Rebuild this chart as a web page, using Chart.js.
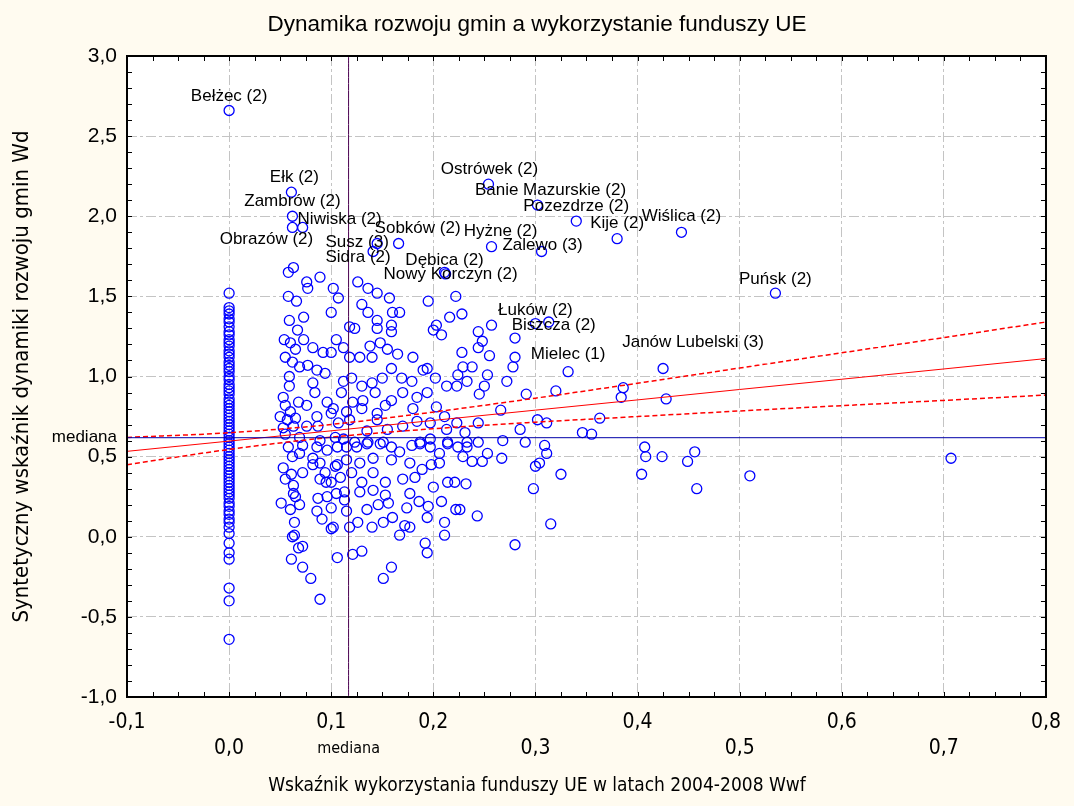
<!DOCTYPE html>
<html>
<head>
<meta charset="utf-8">
<script src="https://cdn.jsdelivr.net/npm/chart.js@4.4.1/dist/chart.umd.min.js"></script>
<style>
  html, body { margin: 0; padding: 0; background: #FFFBF0; }
  #wrap { width: 1074px; height: 806px; }
</style>
</head>
<body>
<div id="wrap"><canvas id="chart" width="1074" height="806"></canvas></div>
<script>
// --- dane ---
const chartTitle = 'Dynamika rozwoju gmin a wykorzystanie funduszy UE';
const xTitle = 'Wskaźnik wykorzystania funduszy UE w latach 2004-2008 Wwf';
const yTitle = 'Syntetyczny wskaźnik dynamiki rozwoju gmin Wd';

const xTicksRow1 = [-0.1, 0.1, 0.2, 0.4, 0.6, 0.8];
const xTicksRow2 = [0.0, 0.3, 0.5, 0.7];
const yTicks = [-1, -0.5, 0, 0.5, 1, 1.5, 2, 2.5, 3];

const medianWwf = 0.117;
const medianWd = 0.618;

// gminy z Wwf = 0
const zeroWwfWd = [1.52, 1.43, 1.41, 1.39, 1.36, 1.34, 1.31, 1.28, 1.26, 1.23, 1.21, 1.19, 1.16, 1.14, 1.12,
  1.09, 1.07, 1.05, 1.03, 1.00, 0.98, 0.95, 0.93, 0.91, 0.89, 0.86, 0.84, 0.82, 0.80, 0.78, 0.76, 0.74,
  0.72, 0.70, 0.68, 0.66, 0.64, 0.62, 0.60, 0.58, 0.56, 0.54, 0.52, 0.50, 0.48, 0.46, 0.44, 0.42, 0.40,
  0.38, 0.36, 0.34, 0.32, 0.30, 0.28, 0.26, 0.24, 0.21, 0.19, 0.16, 0.14, 0.11, 0.09, 0.06, 0.02,
  -0.04, -0.10, -0.14, -0.32, -0.40, -0.64];

// gminy opisane
const labelNames = ['Bełżec (2)', 'Ełk (2)', 'Zambrów (2)', 'Niwiska (2)', 'Obrazów (2)', 'Susz (3)', 'Sidra (2)',
  'Sobków (2)', 'Dębica (2)', 'Nowy Korczyn (2)', 'Ostrówek (2)', 'Banie Mazurskie (2)', 'Pozezdrze (2)',
  'Kije (2)', 'Wiślica (2)', 'Hyżne (2)', 'Zalewo (3)', 'Puńsk (2)', 'Łuków (2)', 'Biszcza (2)', 'Mielec (1)',
  'Janów Lubelski (3)'];
const labelWwf = [0, 0.061, 0.062, 0.072, 0.062, 0.145, 0.141, 0.166, 0.211, 0.212, 0.254, 0.302, 0.340,
  0.380, 0.443, 0.257, 0.306, 0.535, 0.300, 0.313, 0.332, 0.425];
const labelWd = [2.66, 2.15, 2.00, 1.93, 1.93, 1.83, 1.78, 1.83, 1.65, 1.64, 2.20, 2.07, 1.97,
  1.86, 1.90, 1.81, 1.78, 1.52, 1.33, 1.34, 1.03, 1.05];
// przesunięcie podpisów w pikselach
const labelDx = [0, 3, 0, 37, -26, -20, -15, 19, 0, 5, 1, 13, 0, 0, 0, 9, 1, 0, 0, 5, 0, 30];
const labelDy = [-14, -15, -15, -8, 12, -1, 6, -15, -12, 0, -15, -15, -15, -15, -16, -15, -6, -14, -13, 3, -17, -26];

// pozostałe gminy [Wwf, Wd]
const otherWwfWd = [
  // prawa strona
  [0.386, 0.93], [0.384, 0.87], [0.428, 0.86], [0.363, 0.74], [0.407, 0.56], [0.408, 0.50], [0.424, 0.50],
  [0.404, 0.39], [0.456, 0.53], [0.449, 0.47], [0.458, 0.30], [0.510, 0.38], [0.707, 0.49],
  // 0.22 - 0.36
  [0.228, 1.39], [0.257, 1.32], [0.244, 1.28], [0.248, 1.22], [0.244, 1.18], [0.255, 1.13], [0.228, 1.15],
  [0.280, 1.24], [0.280, 1.12], [0.278, 1.06], [0.238, 1.06], [0.253, 1.01], [0.233, 0.97], [0.272, 0.97],
  [0.250, 0.94], [0.245, 0.89], [0.291, 0.89], [0.320, 0.91], [0.266, 0.79], [0.302, 0.73], [0.311, 0.71],
  [0.244, 0.71], [0.285, 0.67], [0.231, 0.65], [0.346, 0.65], [0.355, 0.64], [0.233, 0.59], [0.244, 0.59],
  [0.268, 0.60], [0.290, 0.59], [0.309, 0.57], [0.311, 0.52], [0.253, 0.52], [0.248, 0.47], [0.267, 0.49],
  [0.300, 0.44], [0.304, 0.46], [0.325, 0.39], [0.298, 0.30], [0.243, 0.13], [0.315, 0.08], [0.280, -0.05],
  [0.226, 0.17], [0.233, 0.56], [0.238, 0.47], [0.232, 0.33],
  // 0.1 - 0.23 górna część
  [0.126, 1.59], [0.136, 1.55], [0.145, 1.52], [0.157, 1.49], [0.195, 1.47], [0.130, 1.45], [0.136, 1.40],
  [0.160, 1.40], [0.167, 1.40], [0.145, 1.35], [0.159, 1.32], [0.118, 1.31], [0.123, 1.30], [0.145, 1.30],
  [0.159, 1.28], [0.102, 1.55], [0.107, 1.49], [0.100, 1.40], [0.216, 1.37], [0.222, 1.50], [0.203, 1.32],
  [0.208, 1.26], [0.200, 1.29], [0.105, 1.23], [0.100, 1.15], [0.112, 1.18], [0.118, 1.12], [0.128, 1.12],
  [0.138, 1.19], [0.148, 1.21], [0.140, 1.12], [0.155, 1.17], [0.165, 1.14], [0.180, 1.12], [0.190, 1.04],
  [0.194, 1.05], [0.202, 0.99], [0.224, 1.01], [0.213, 0.94], [0.223, 0.94], [0.229, 1.06], [0.150, 0.99],
  [0.159, 1.05], [0.169, 0.99], [0.179, 0.97], [0.112, 0.97], [0.120, 0.99], [0.130, 0.94], [0.140, 0.96],
  [0.110, 0.90], [0.121, 0.84], [0.131, 0.85], [0.143, 0.90], [0.159, 0.85], [0.170, 0.90], [0.184, 0.87],
  [0.194, 0.90], [0.203, 0.81], [0.211, 0.75], [0.102, 0.80], [0.115, 0.78], [0.130, 0.80], [0.145, 0.77],
  [0.153, 0.82], [0.180, 0.80], [0.107, 0.71], [0.118, 0.73], [0.155, 0.67], [0.170, 0.69], [0.184, 0.72],
  [0.197, 0.71], [0.213, 0.67], [0.223, 0.71], [0.135, 0.66], [0.145, 0.73], [0.112, 0.61], [0.123, 0.59],
  [0.136, 0.59], [0.151, 0.59], [0.187, 0.59], [0.214, 0.59], [0.197, 0.61],
  // 0.1 - 0.23 dolna część
  [0.106, 0.56], [0.115, 0.56], [0.125, 0.56], [0.135, 0.58], [0.148, 0.58], [0.159, 0.56], [0.167, 0.53],
  [0.179, 0.57], [0.187, 0.58], [0.197, 0.56], [0.206, 0.52], [0.214, 0.58], [0.224, 0.56], [0.229, 0.50],
  [0.106, 0.45], [0.115, 0.48], [0.128, 0.46], [0.141, 0.49], [0.159, 0.48], [0.177, 0.46], [0.189, 0.42],
  [0.198, 0.45], [0.206, 0.46], [0.109, 0.37], [0.120, 0.40], [0.130, 0.34], [0.141, 0.40], [0.153, 0.34],
  [0.170, 0.36], [0.182, 0.37], [0.200, 0.31], [0.214, 0.34], [0.221, 0.34], [0.113, 0.28], [0.128, 0.28],
  [0.141, 0.29], [0.153, 0.26], [0.177, 0.27], [0.186, 0.22], [0.195, 0.19], [0.208, 0.22], [0.222, 0.17],
  [0.113, 0.23], [0.100, 0.18], [0.115, 0.16], [0.135, 0.17], [0.146, 0.20], [0.156, 0.21], [0.174, 0.18],
  [0.194, 0.12], [0.118, 0.06], [0.126, 0.09], [0.140, 0.06], [0.151, 0.09], [0.160, 0.12], [0.172, 0.07],
  [0.177, 0.06], [0.167, 0.01], [0.211, 0.09], [0.211, 0.01], [0.102, 0.06], [0.106, -0.13], [0.121, -0.11],
  [0.130, -0.09], [0.192, -0.04], [0.194, -0.10], [0.159, -0.19], [0.151, -0.26],
  // 0.05 - 0.1 dolna część
  [0.051, 0.21], [0.060, 0.17], [0.064, 0.09], [0.062, 0.00], [0.064, 0.01], [0.068, -0.07], [0.061, -0.14],
  [0.072, -0.19], [0.080, -0.26], [0.089, -0.39], [0.072, -0.06], [0.065, 0.25], [0.069, 0.20], [0.086, 0.16],
  [0.091, 0.11], [0.100, 0.05], [0.087, 0.24], [0.096, 0.25], [0.063, 0.27], [0.063, 0.32], [0.061, 0.39],
  [0.055, 0.36], [0.072, 0.40], [0.082, 0.45], [0.089, 0.46], [0.094, 0.40], [0.095, 0.34], [0.089, 0.36],
  [0.100, 0.34], [0.062, 0.50], [0.069, 0.52], [0.058, 0.56], [0.053, 0.43], [0.072, 0.57], [0.086, 0.56],
  [0.096, 0.54], [0.082, 0.49], [0.104, 0.44], [0.105, 0.27],
  // 0.05 - 0.1 górna część
  [0.058, 1.65], [0.063, 1.68], [0.076, 1.59], [0.077, 1.55], [0.089, 1.62], [0.058, 1.50], [0.066, 1.47],
  [0.073, 1.37], [0.059, 1.35], [0.067, 1.29], [0.054, 1.23], [0.060, 1.21], [0.065, 1.17], [0.073, 1.23],
  [0.082, 1.18], [0.092, 1.15], [0.055, 1.12], [0.062, 1.09], [0.069, 1.06], [0.077, 1.07], [0.086, 1.04],
  [0.094, 1.02], [0.059, 1.00], [0.059, 0.94], [0.082, 0.96], [0.084, 0.90], [0.096, 0.84], [0.053, 0.87],
  [0.055, 0.82], [0.068, 0.84], [0.076, 0.82], [0.060, 0.78], [0.050, 0.75], [0.057, 0.73], [0.065, 0.74],
  [0.086, 0.75], [0.100, 0.77], [0.063, 0.69], [0.053, 0.68], [0.076, 0.69], [0.087, 0.69], [0.055, 0.64],
  [0.069, 0.62], [0.089, 0.60], [0.104, 0.62]
];

// prosta regresji i przedziały ufności
const fitWwf = [-0.1, 0, 0.1, 0.2, 0.3, 0.4, 0.5, 0.6, 0.7, 0.8];
const fitWd = [0.533, 0.597, 0.661, 0.726, 0.790, 0.854, 0.919, 0.983, 1.047, 1.112];
const fitUpper = [0.620, 0.649, 0.701, 0.778, 0.865, 0.958, 1.053, 1.148, 1.243, 1.340];
const fitLower = [0.450, 0.545, 0.621, 0.674, 0.715, 0.750, 0.785, 0.818, 0.851, 0.884];

// --- wykres ---
const SANS = "'Liberation Sans', Arial, sans-serif";
const NARROW = "'Liberation Sans Narrow', 'Arial Narrow', 'DejaVu Sans Condensed', sans-serif";
const fmt = v => v.toFixed(1).replace('.', ',');
const same = (a, b) => Math.abs(a - b) < 1e-9;

const points = [];
labelWwf.forEach((x, i) => points.push({ x: x, y: labelWd[i] }));
zeroWwfWd.forEach(y => points.push({ x: 0, y: y }));
otherWwfWd.forEach(p => points.push({ x: p[0], y: p[1] }));

const toXY = ys => fitWwf.map((x, i) => ({ x: x, y: ys[i] }));

const lineDs = (data, color, width, dash) => ({
  data: data,
  showLine: true,
  borderColor: color,
  borderWidth: width,
  borderDash: dash,
  pointRadius: 0,
  fill: false,
  cubicInterpolationMode: 'monotone'
});

const plotBg = {
  id: 'plotBg',
  beforeDraw(chart) {
    const { ctx, chartArea: a } = chart;
    ctx.save();
    ctx.fillStyle = '#FFFFFF';
    ctx.fillRect(a.left, a.top, a.right - a.left, a.bottom - a.top);
    ctx.restore();
  }
};

const frameAndText = {
  id: 'frameAndText',
  afterDraw(chart) {
    const { ctx, chartArea: a, scales } = chart;
    const xs = scales.x, ys = scales.y;
    ctx.save();
    // ramka
    ctx.strokeStyle = '#000';
    ctx.lineWidth = 2;
    ctx.strokeRect(a.left, a.top, a.right - a.left, a.bottom - a.top);
    // kreski podziałki do środka
    ctx.lineWidth = 1;
    ctx.beginPath();
    for (let k = 0; k <= 36; k++) {
      const px = Math.round(xs.getPixelForValue(-0.1 + k * 0.025)) + 0.5;
      ctx.moveTo(px, a.bottom); ctx.lineTo(px, a.bottom - 5);
      ctx.moveTo(px, a.top); ctx.lineTo(px, a.top + 5);
    }
    for (let k = 0; k <= 40; k++) {
      const py = Math.round(ys.getPixelForValue(-1 + k * 0.1)) + 0.5;
      ctx.moveTo(a.left, py); ctx.lineTo(a.left + 5, py);
      ctx.moveTo(a.right, py); ctx.lineTo(a.right - 5, py);
    }
    ctx.stroke();

    // podpisy gmin
    ctx.fillStyle = '#000';
    ctx.font = '17px ' + SANS;
    ctx.textAlign = 'center';
    ctx.textBaseline = 'middle';
    labelNames.forEach((name, i) => {
      const px = xs.getPixelForValue(labelWwf[i]) + labelDx[i];
      const py = ys.getPixelForValue(labelWd[i]) + labelDy[i];
      ctx.fillText(name, px, py);
    });

    // tytuły
    ctx.font = '22.5px ' + SANS;
    ctx.fillText(chartTitle, chart.width / 2, 25);
    ctx.font = '19px ' + NARROW;
    ctx.fillText(xTitle, chart.width / 2, 786);
    ctx.restore();
  }
};

new Chart(document.getElementById('chart'), {
  type: 'scatter',
  data: {
    datasets: [
      lineDs([{ x: -0.1, y: medianWd }, { x: 0.8, y: medianWd }], '#0000A8', 1, []),
      lineDs([{ x: medianWwf, y: -1 }, { x: medianWwf, y: 3 }], '#4A0050', 1, []),
      lineDs(toXY(fitUpper), '#FF0000', 1.5, [5, 3]),
      lineDs(toXY(fitLower), '#FF0000', 1.5, [5, 3]),
      lineDs(toXY(fitWd), '#FF0000', 1, []),
      {
        data: points,
        pointRadius: 5,
        pointHoverRadius: 5,
        pointBorderWidth: 1.3,
        borderColor: '#0000FF',
        backgroundColor: 'rgba(0,0,0,0)',
        pointStyle: 'circle'
      }
    ]
  },
  options: {
    responsive: false,
    animation: false,
    devicePixelRatio: 1,
    layout: { padding: { top: 56, right: 27, left: 0, bottom: 0 } },
    plugins: {
      legend: { display: false },
      tooltip: { enabled: false },
      title: { display: false }
    },
    scales: {
      x: {
        type: 'linear',
        min: -0.1,
        max: 0.8,
        afterBuildTicks: s => {
          s.ticks = [...xTicksRow1, ...xTicksRow2, medianWwf].sort((a, b) => a - b).map(v => ({ value: v }));
        },
        afterFit: s => { s.height = 109; },
        grid: {
          drawTicks: false,
          color: c => (c.tick && same(c.tick.value, medianWwf)) ? 'rgba(0,0,0,0)' : '#C4C4C4',
          lineWidth: 1
        },
        border: { display: false, dash: [10, 3, 3, 3] },
        ticks: {
          autoSkip: false,
          maxRotation: 0,
          minRotation: 0,
          padding: 13,
          color: '#000',
          font: c => (c.tick && same(c.tick.value, medianWwf))
            ? { family: NARROW, size: 16, lineHeight: '26px' }
            : { family: NARROW, size: 21, lineHeight: '26px' },
          callback: v => {
            if (same(v, medianWwf)) return ['', 'mediana'];
            if (xTicksRow1.some(t => same(t, v))) return [fmt(v), ''];
            return ['', fmt(v)];
          }
        }
      },
      y: {
        type: 'linear',
        min: -1,
        max: 3,
        afterBuildTicks: s => {
          s.ticks = [...yTicks, medianWd].sort((a, b) => a - b).map(v => ({ value: v }));
        },
        afterFit: s => { s.width = 127; },
        grid: {
          drawTicks: false,
          color: c => (c.tick && same(c.tick.value, medianWd)) ? 'rgba(0,0,0,0)' : '#C4C4C4',
          lineWidth: 1
        },
        border: { display: false, dash: [10, 3, 3, 3] },
        ticks: {
          autoSkip: false,
          padding: 10,
          color: '#000',
          font: c => (c.tick && same(c.tick.value, medianWd))
            ? { family: SANS, size: 17 }
            : { family: SANS, size: 21 },
          callback: v => same(v, medianWd) ? 'mediana' : fmt(v)
        },
        title: {
          display: true,
          text: yTitle,
          color: '#000',
          font: { family: NARROW, size: 22 },
          padding: { top: 9, bottom: 0 }
        }
      }
    }
  },
  plugins: [plotBg, frameAndText]
});
</script>
</body>
</html>
